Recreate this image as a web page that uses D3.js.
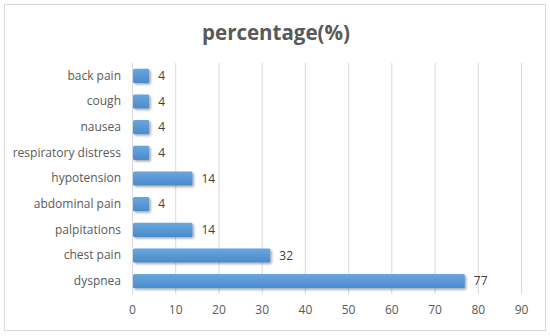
<!DOCTYPE html>
<html>
<head>
<meta charset="utf-8">
<script src="https://cdn.jsdelivr.net/npm/d3@7"></script>
<style>
  body { margin: 0; background: #fff; }
  text { font-family: "Open Sans", "Liberation Sans", sans-serif; }
</style>
</head>
<body>
<svg id="chart"></svg>
<script>
// data, top row first
var categories = ["back pain", "cough", "nausea", "respiratory distress", "hypotension",
                  "abdominal pain", "palpitations", "chest pain", "dyspnea"];
var values = [4, 4, 4, 4, 14, 4, 14, 32, 77];
var xTicks = [0, 10, 20, 30, 40, 50, 60, 70, 80, 90];
var title = "percentage(%)";

var config = { w: 550, h: 336, left: 132, right: 521, top: 63, bottom: 294 };

var svg = d3.select("#chart")
  .attr("width", config.w)
  .attr("height", config.h);

var defs = svg.append("defs");
var grad = defs.append("linearGradient")
  .attr("id", "barGrad")
  .attr("x1", 0).attr("y1", 0).attr("x2", 0).attr("y2", 1);
grad.append("stop").attr("offset", "0%").attr("stop-color", "#6aa6dd");
grad.append("stop").attr("offset", "100%").attr("stop-color", "#4a8bcb");

var shadow = defs.append("filter").attr("id", "shadow")
  .attr("x", "-10%").attr("y", "-30%").attr("width", "130%").attr("height", "180%");
shadow.append("feDropShadow")
  .attr("dx", 1.5).attr("dy", 1.5).attr("stdDeviation", 1)
  .attr("flood-color", "#000").attr("flood-opacity", 0.35);

// outer frame
svg.append("rect")
  .attr("x", 4.5).attr("y", 4.5)
  .attr("width", 541).attr("height", 326)
  .attr("fill", "#fff")
  .attr("stroke", "#d9d9d9");

svg.append("text")
  .attr("x", 276).attr("y", 40)
  .attr("text-anchor", "middle")
  .attr("font-size", 20.5)
  .attr("font-weight", "bold")
  .attr("fill", "#595959")
  .text(title);

var x = d3.scaleLinear()
  .domain([0, 90])
  .range([config.left, config.right]);

var y = d3.scaleBand()
  .domain(categories)
  .range([config.top, config.bottom])
  .paddingInner(0.45)
  .paddingOuter(0.225);

// vertical gridlines
svg.append("g")
  .selectAll("line")
  .data(xTicks.slice(1))
  .join("line")
    .attr("x1", function(d) { return x(d) + 0.5; })
    .attr("x2", function(d) { return x(d) + 0.5; })
    .attr("y1", config.top)
    .attr("y2", config.bottom)
    .attr("stroke", "#d9d9d9");

// category axis line
svg.append("line")
  .attr("x1", config.left + 0.5).attr("x2", config.left + 0.5)
  .attr("y1", config.top).attr("y2", config.bottom)
  .attr("stroke", "#d9d9d9");

// x axis labels
var xAxis = svg.append("g")
  .attr("transform", "translate(0," + config.bottom + ")")
  .call(d3.axisBottom(x).tickValues(xTicks).tickSize(0).tickPadding(11));
xAxis.select(".domain").remove();
xAxis.selectAll("text")
  .attr("font-size", 12)
  .attr("fill", "#595959")
  .style("font-family", "'Open Sans', 'Liberation Sans', sans-serif");

// y axis labels
var yAxis = svg.append("g")
  .attr("transform", "translate(" + config.left + ",0)")
  .call(d3.axisLeft(y).tickSize(0).tickPadding(11));
yAxis.select(".domain").remove();
yAxis.selectAll("text")
  .attr("font-size", 12)
  .attr("fill", "#595959")
  .style("font-family", "'Open Sans', 'Liberation Sans', sans-serif");

var rows = categories.map(function(c, i) { return { name: c, value: values[i] }; });

svg.append("g")
  .selectAll("rect")
  .data(rows)
  .join("rect")
    .attr("x", x(0) + 1)
    .attr("y", function(d) { return y(d.name); })
    .attr("width", function(d) { return x(d.value) - x(0) - 1; })
    .attr("height", y.bandwidth())
    .attr("rx", 1.5)
    .attr("fill", "url(#barGrad)")
    .attr("filter", "url(#shadow)");

svg.append("g")
  .selectAll("text")
  .data(rows)
  .join("text")
    .attr("x", function(d) { return x(d.value) + 9; })
    .attr("y", function(d) { return y(d.name) + y.bandwidth() / 2; })
    .attr("dy", "0.35em")
    .attr("font-size", 12)
    .attr("fill", "#404040")
    .text(function(d) { return d.value; });
</script>
</body>
</html>
